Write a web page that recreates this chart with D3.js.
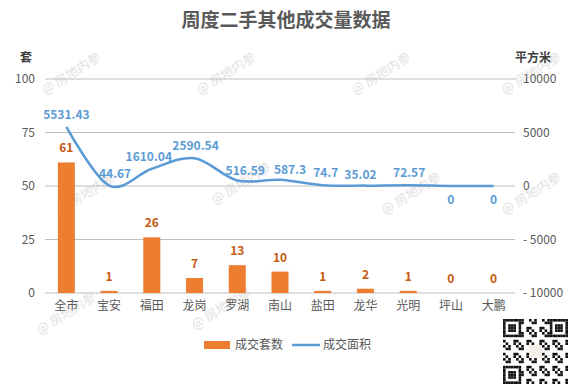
<!DOCTYPE html>
<html>
<head>
<meta charset="utf-8">
<script src="https://cdn.jsdelivr.net/npm/d3@7"></script>
<style>
  body { margin: 0; background: #fff; }
  text { font-family: "Noto Sans CJK SC", "Microsoft YaHei", sans-serif; }
</style>
</head>
<body>
<div id="chart"></div>
<script>
// 数据
const categories = ['全市', '宝安', '福田', '龙岗', '罗湖', '南山', '盐田', '龙华', '光明', '坪山', '大鹏'];
const units = [61, 1, 26, 7, 13, 10, 1, 2, 1, 0, 0];
const areas = [5531.43, 44.67, 1610.04, 2590.54, 516.59, 587.3, 74.7, 35.02, 72.57, 0, 0];
const leftTicks = [0, 25, 50, 75, 100];
const rightTicks = [-10000, -5000, 0, 5000, 10000];

const width = 573;
const height = 386;
const plotLeft = 45, plotRight = 515, plotTop = 79, plotBottom = 293;
const orange = '#ED7D31';
const blue = '#5B9BD5';
const grey = '#595959';

const svg = d3.select('#chart').append('svg')
  .attr('width', width)
  .attr('height', height);

// 水印
const wm = svg.append('g').attr('class', 'watermark');
const wmPos = [[45, 95], [200, 95], [355, 95], [505, 95], [60, 215], [215, 205], [385, 215], [505, 215], [40, 335], [195, 330]];
wmPos.forEach(p => {
  wm.append('text')
    .attr('transform', `translate(${p[0]},${p[1]}) rotate(-32)`)
    .attr('fill', '#e2e2e2')
    .attr('font-size', 13)
    .text('@ 房地内参');
});

const x = d3.scaleBand().domain(categories).range([plotLeft, plotRight]);
const yL = d3.scaleLinear().domain([0, 100]).range([plotBottom, plotTop]);
const yR = d3.scaleLinear().domain([-10000, 10000]).range([plotBottom, plotTop]);

// 网格线
svg.append('g').selectAll('line')
  .data(leftTicks)
  .enter()
  .append('line')
  .attr('x1', plotLeft).attr('x2', plotRight)
  .attr('y1', d => yL(d)).attr('y2', d => yL(d))
  .attr('stroke', '#bfbfbf')
  .attr('stroke-width', 1);

// 左轴
const axisL = svg.append('g')
  .attr('transform', `translate(${plotLeft},0)`)
  .call(d3.axisLeft(yL).tickValues(leftTicks).tickSize(0).tickPadding(10));
axisL.select('.domain').remove();
axisL.selectAll('text').attr('font-size', 12).attr('fill', grey);

// 右轴
const axisR = svg.append('g')
  .attr('transform', `translate(${plotRight},0)`)
  .call(d3.axisRight(yR).tickValues(rightTicks).tickSize(0).tickPadding(8)
    .tickFormat(d => d < 0 ? '- ' + Math.abs(d) : d));
axisR.select('.domain').remove();
axisR.selectAll('text').attr('font-size', 12).attr('fill', grey);

// X轴
const axisX = svg.append('g')
  .attr('transform', `translate(0,${plotBottom})`)
  .call(d3.axisBottom(x).tickSize(0).tickPadding(8));
axisX.select('.domain').remove();
axisX.selectAll('text').attr('font-size', 12).attr('fill', grey);

// 标题
svg.append('text')
  .attr('x', 286).attr('y', 27)
  .attr('text-anchor', 'middle')
  .attr('font-size', 19)
  .attr('font-weight', 'bold')
  .attr('fill', grey)
  .text('周度二手其他成交量数据');

svg.append('text')
  .attr('x', 26).attr('y', 62)
  .attr('text-anchor', 'middle')
  .attr('font-size', 12).attr('font-weight', 'bold')
  .attr('fill', '#404040')
  .text('套');

svg.append('text')
  .attr('x', 533).attr('y', 62)
  .attr('text-anchor', 'middle')
  .attr('font-size', 12).attr('font-weight', 'bold')
  .attr('fill', '#404040')
  .text('平方米');

// 柱子
const barW = 17;
svg.append('g').selectAll('rect')
  .data(units)
  .enter()
  .append('rect')
  .attr('x', (d, i) => x(categories[i]) + x.bandwidth() / 2 - barW / 2)
  .attr('y', d => yL(d))
  .attr('width', barW)
  .attr('height', d => plotBottom - yL(d))
  .attr('fill', orange);

svg.append('g').selectAll('text')
  .data(units)
  .enter()
  .append('text')
  .attr('x', (d, i) => x(categories[i]) + x.bandwidth() / 2)
  .attr('y', d => yL(d) - 10)
  .attr('text-anchor', 'middle')
  .attr('font-size', 12)
  .attr('font-weight', 'bold')
  .attr('fill', '#C55A11')
  .text(d => d);

// 折线
const line = d3.line()
  .x((d, i) => x(categories[i]) + x.bandwidth() / 2)
  .y(d => yR(d))
  .curve(d3.curveCatmullRom.alpha(0));

svg.append('path')
  .datum(areas)
  .attr('d', line)
  .attr('fill', 'none')
  .attr('stroke', blue)
  .attr('stroke-width', 2.5);

// 标签避让
const areaLabelDx = [0, 6, -3, 1, 8, 10, 3, -5, 1, 0, 0];
const areaLabelDy = [-8, -8, -8, -8, -5, -6, -8, -7, -8, 18, 18];
svg.append('g').selectAll('text')
  .data(areas)
  .enter()
  .append('text')
  .attr('x', (d, i) => x(categories[i]) + x.bandwidth() / 2 + areaLabelDx[i])
  .attr('y', (d, i) => yR(d) + areaLabelDy[i])
  .attr('text-anchor', 'middle')
  .attr('font-size', 12)
  .attr('font-weight', 'bold')
  .attr('fill', blue)
  .text(d => d);

// 图例
const legend = svg.append('g').attr('class', 'legend');
legend.append('rect')
  .attr('x', 204).attr('y', 341).attr('width', 26).attr('height', 8)
  .attr('fill', orange);
legend.append('text')
  .attr('x', 235).attr('y', 349)
  .attr('font-size', 12).attr('fill', grey)
  .text('成交套数');
legend.append('line')
  .attr('x1', 292).attr('x2', 320).attr('y1', 345).attr('y2', 345)
  .attr('stroke', blue).attr('stroke-width', 2.5);
legend.append('text')
  .attr('x', 323).attr('y', 349)
  .attr('font-size', 12).attr('fill', grey)
  .text('成交面积');

// 二维码（示意）
const qr = svg.append('g').attr('transform', 'translate(503,319)');
const n = 25, m = 2.6;
qr.append('rect').attr('width', n * m).attr('height', n * m).attr('fill', '#fff');
for (let r = 0; r < n; r++) {
  for (let c = 0; c < n; c++) {
    const inFinder = (r < 7 && c < 7) || (r < 7 && c >= n - 7) || (r >= n - 7 && c < 7);
    let on;
    if (inFinder) {
      const rr = r < 7 ? r : r - (n - 7);
      const cc = c < 7 ? c : c - (n - 7);
      on = rr === 0 || rr === 6 || cc === 0 || cc === 6 || (rr >= 2 && rr <= 4 && cc >= 2 && cc <= 4);
    } else {
      on = ((r * 7 + c * 13 + r * c) % 5) < 2;
    }
    if (on) {
      qr.append('rect')
        .attr('x', c * m).attr('y', r * m)
        .attr('width', m).attr('height', m)
        .attr('fill', '#111');
    }
  }
}
qr.append('rect').attr('x', 26).attr('y', 26).attr('width', 13).attr('height', 13).attr('fill', '#f3efe6');
</script>
</body>
</html>
